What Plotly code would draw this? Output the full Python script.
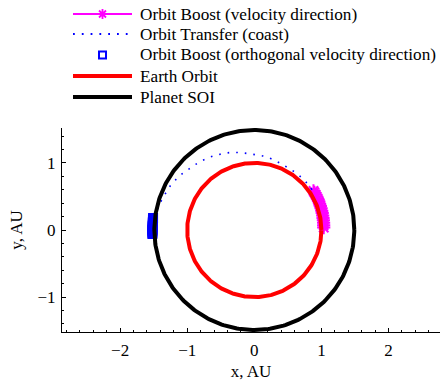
import numpy as np
import plotly.graph_objects as go

# Orbit radii (AU)
EARTH_ORBIT_RADIUS = 1.0
SOI_RADIUS = 1.49

# Boost arc along the velocity direction, polar form (deg, AU)
boost_angle_deg = [2, 4, 6, 8, 10, 12, 14, 16, 18, 20, 22, 24, 26, 28, 30, 32, 33.5]
boost_radius = [1.035, 1.036, 1.038, 1.039, 1.040, 1.042, 1.043, 1.045, 1.046, 1.047,
                1.049, 1.050, 1.052, 1.053, 1.055, 1.056, 1.057]

# Coasting transfer arc (AU)
coast_x = [0.86, 0.80, 0.727, 0.627, 0.512, 0.403, 0.288, 0.164, 0.034, -0.094, -0.224, -0.358,
           -0.482, -0.607, -0.731, -0.846, -0.955, -1.064, -1.164, -1.254, -1.328, -1.393, -1.443, -1.48]
coast_y = [0.60, 0.68, 0.757, 0.846, 0.921, 0.985, 1.045, 1.094, 1.119, 1.139, 1.154, 1.154,
           1.134, 1.104, 1.055, 0.996, 0.921, 0.846, 0.757, 0.657, 0.537, 0.422, 0.309, 0.22]

# Boost arc orthogonal to the velocity direction (AU)
ortho_x = [-1.509, -1.510, -1.511, -1.512, -1.513, -1.514, -1.515, -1.516, -1.517, -1.518, -1.518, -1.519, -1.519]
ortho_y = [0.18, 0.16, 0.14, 0.12, 0.10, 0.08, 0.06, 0.04, 0.02, 0.00, -0.02, -0.04, -0.06]

# Legend entries
legend_labels = [
    "Orbit Boost (velocity direction)",
    "Orbit Transfer (coast)",
    "Orbit Boost (orthogonal velocity direction)",
    "Earth Orbit",
    "Planet SOI",
]

MAGENTA, BLUE, RED, BLACK = "#ff00ff", "#0000ff", "#ff0000", "#000000"
FONT = "Liberation Serif"

theta = np.linspace(0, 2 * np.pi, 361)
b_ang = np.deg2rad(boost_angle_deg)
b_rad = np.array(boost_radius)

fig = go.Figure()
fig.add_trace(go.Scatter(
    x=b_rad * np.cos(b_ang), y=b_rad * np.sin(b_ang), mode="lines+markers",
    name=legend_labels[0],
    line=dict(color=MAGENTA, width=2),
    marker=dict(symbol="asterisk-open", size=11, color=MAGENTA, line=dict(color=MAGENTA, width=2)),
))
fig.add_trace(go.Scatter(
    x=coast_x, y=coast_y, mode="lines", name=legend_labels[1],
    line=dict(color=BLUE, width=1.6, dash="1.6px,7px", shape="spline"),
))
fig.add_trace(go.Scatter(
    x=ortho_x, y=ortho_y, mode="markers", name=legend_labels[2],
    marker=dict(symbol="square-open", size=8, color=BLUE, line=dict(color=BLUE, width=2)),
))
fig.add_trace(go.Scatter(
    x=EARTH_ORBIT_RADIUS * np.cos(theta), y=EARTH_ORBIT_RADIUS * np.sin(theta),
    mode="lines", name=legend_labels[3], line=dict(color=RED, width=4),
))
fig.add_trace(go.Scatter(
    x=SOI_RADIUS * np.cos(theta), y=SOI_RADIUS * np.sin(theta),
    mode="lines", name=legend_labels[4], line=dict(color=BLACK, width=4),
))

# Plot-area geometry in pixels, used to place the legend block above the axes
W, H = 440, 381
ML, MR, MT, MB = 62, 0, 128, 49
PW, PH = W - ML - MR, H - MT - MB


def px_x(px):
    return (px - ML) / PW


def px_y(py):
    return (H - MB - py) / PH


row_y = [14, 34, 55, 76, 97]
sym_x0, sym_x1, text_x = 73, 132, 138
sym_xc = (sym_x0 + sym_x1) / 2

shapes = []
annotations = []
legend_styles = [
    dict(color=MAGENTA, width=2, dash="solid"),
    dict(color=BLUE, width=1.8, dash="1.8px,7px"),
    None,
    dict(color=RED, width=4, dash="solid"),
    dict(color=BLACK, width=4, dash="solid"),
]
for label, ry, style in zip(legend_labels, row_y, legend_styles):
    if style is not None:
        shapes.append(dict(type="line", xref="paper", yref="paper",
                           x0=px_x(sym_x0), x1=px_x(sym_x1), y0=px_y(ry), y1=px_y(ry),
                           line=style))
    annotations.append(dict(text=label, xref="paper", yref="paper", x=px_x(text_x), y=px_y(ry),
                            xanchor="left", yanchor="middle", showarrow=False,
                            font=dict(family=FONT, size=17.2, color="black")))

# asterisk glyph for the velocity-direction boost entry
shapes.append(dict(type="path", xref="paper", yref="paper", xsizemode="pixel", ysizemode="pixel",
                   xanchor=px_x(sym_xc), yanchor=px_y(row_y[0]),
                   path="M-5,0L5,0M0,-5L0,5M-3.5,-3.5L3.5,3.5M-3.5,3.5L3.5,-3.5",
                   line=dict(color=MAGENTA, width=1.8)))
# open-square glyph for the orthogonal boost entry
shapes.append(dict(type="rect", xref="paper", yref="paper", xsizemode="pixel", ysizemode="pixel",
                   xanchor=px_x(sym_xc), yanchor=px_y(row_y[2]),
                   x0=-3.5, x1=3.5, y0=-3.5, y1=3.5,
                   line=dict(color=BLUE, width=2), fillcolor="rgba(0,0,0,0)"))

axis_common = dict(
    showline=True, linecolor="black", linewidth=1, mirror=False,
    showgrid=False, zeroline=False,
    ticks="inside", ticklen=4, tickcolor="black", tickwidth=1,
    minor=dict(dtick=0.2, ticks="inside", ticklen=2, tickcolor="black", tickwidth=1),
    tickfont=dict(family=FONT, size=17, color="black"),
)

fig.update_layout(
    width=W, height=H,
    margin=dict(l=ML, r=MR, t=MT, b=MB),
    paper_bgcolor="white", plot_bgcolor="white",
    font=dict(family=FONT, size=17, color="black"),
    xaxis=dict(range=[-2.866, 2.767], tickvals=[-2, -1, 0, 1, 2], ticklabelstandoff=3,
               title=dict(text="x, AU", font=dict(family=FONT, size=17), standoff=6), **axis_common),
    yaxis=dict(range=[-1.52, 1.52], tickvals=[-1, 0, 1], ticklabelstandoff=2,
               title=dict(text="y, AU", font=dict(family=FONT, size=17), standoff=10), **axis_common),
    shapes=shapes,
    annotations=annotations,
    showlegend=False,
)

fig.write_html("out.html")
